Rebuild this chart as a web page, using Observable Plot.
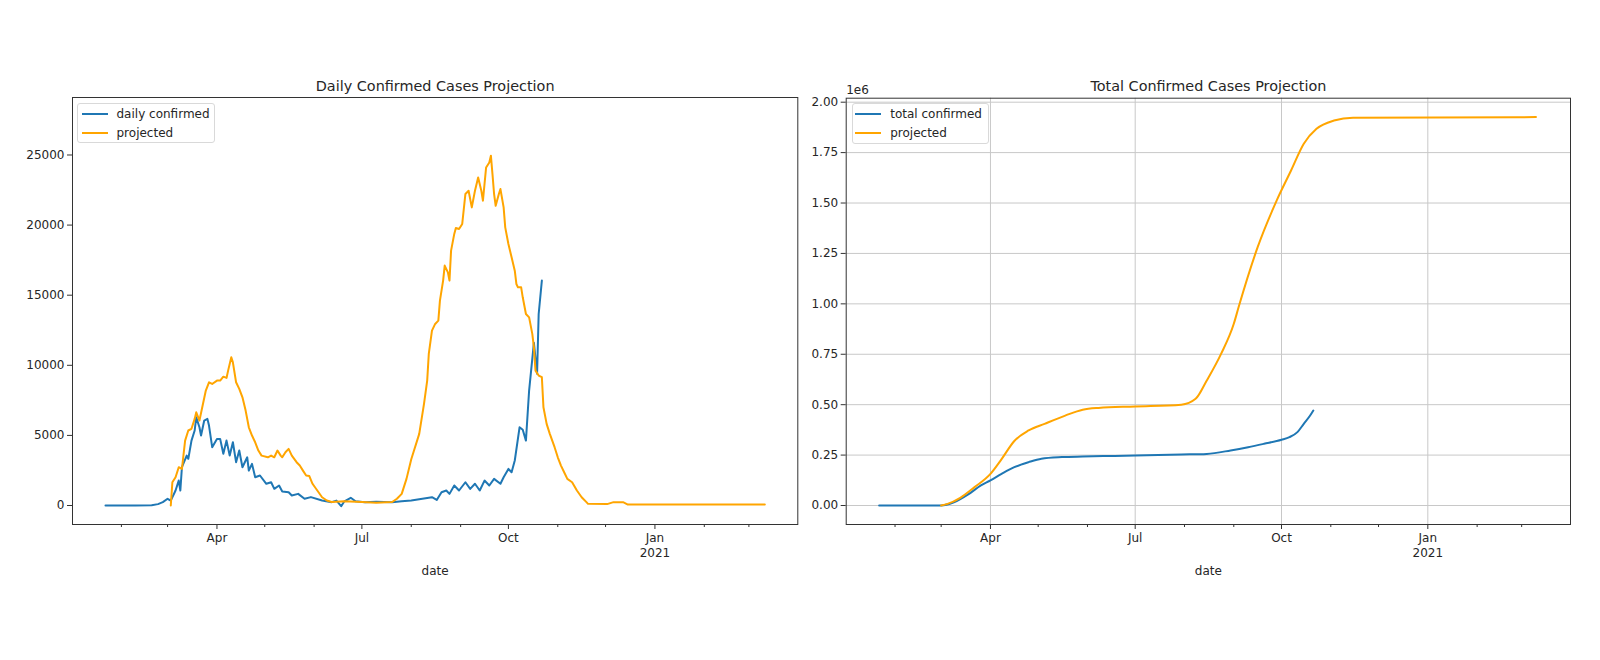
<!DOCTYPE html>
<html>
<head>
<meta charset="utf-8">
<script src="https://cdn.jsdelivr.net/npm/d3@7"></script>
<script src="https://cdn.jsdelivr.net/npm/@observablehq/plot@0.6"></script>
<style>
  body { margin: 0; background: #fff; }
  #wrap { position: relative; width: 1600px; height: 660px; overflow: hidden; font-family: "DejaVu Sans", sans-serif; background: #fff; }
  #wrap svg { position: absolute; top: 0; }
  .legend { position: absolute; box-sizing: border-box; border: 1px solid #d9d9d9; border-radius: 3px; background: rgba(255,255,255,0.8); font-size: 12px; color: #262626; }
  .legend .swatch { position: absolute; width: 26px; height: 2px; }
  .legend .label { position: absolute; line-height: 14px; white-space: nowrap; transform: translateY(-50%); }
</style>
</head>
<body>
<div id="wrap"></div>
<script>
// ---- daily confirmed cases (reported) ----
const dailyDates = [
  "2020-01-22","2020-02-01","2020-02-10","2020-02-20","2020-02-24","2020-02-27","2020-03-01","2020-03-03",
  "2020-03-06","2020-03-08","2020-03-09","2020-03-10","2020-03-13","2020-03-14","2020-03-16","2020-03-18",
  "2020-03-19","2020-03-21","2020-03-22","2020-03-24","2020-03-26","2020-03-27","2020-03-29","2020-04-01",
  "2020-04-03","2020-04-05","2020-04-07","2020-04-09","2020-04-11","2020-04-13","2020-04-15","2020-04-17",
  "2020-04-20","2020-04-21","2020-04-23","2020-04-25","2020-04-28","2020-05-02","2020-05-05","2020-05-07",
  "2020-05-10","2020-05-12","2020-05-16","2020-05-18","2020-05-22","2020-05-26","2020-05-30","2020-06-06",
  "2020-06-12","2020-06-15","2020-06-18","2020-06-20","2020-06-24","2020-06-27","2020-07-03","2020-07-10",
  "2020-07-20","2020-07-26","2020-08-01","2020-08-08","2020-08-14","2020-08-17","2020-08-20","2020-08-23",
  "2020-08-25","2020-08-28","2020-08-31","2020-09-04","2020-09-07","2020-09-10","2020-09-13","2020-09-16",
  "2020-09-19","2020-09-22","2020-09-26","2020-09-28","2020-10-01","2020-10-03","2020-10-05","2020-10-08",
  "2020-10-10","2020-10-12","2020-10-14","2020-10-17","2020-10-19","2020-10-20","2020-10-22"
];
const dailyConfirmed = [
  0, 0, 0, 20, 100, 240, 480, 350,
  1070, 1780, 1070, 2730, 3560, 3330, 4630, 5350,
  6290, 5580, 4990, 6060, 6180, 5700, 4160, 4750,
  4750, 3690, 4630, 3560, 4510, 3090, 3920, 2730,
  3440, 2490, 2970, 2020, 2140, 1550, 1660, 1190,
  1430, 1000, 950, 710, 830, 480, 600, 360,
  240, 350, -50, 300, 550, 300, 240, 260,
  240, 300, 360, 480, 590, 400, 950, 1070,
  830, 1430, 1070, 1660, 1190, 1550, 1070, 1780,
  1430, 1900, 1550, 2020, 2610, 2370, 3210, 5580,
  5400, 4630, 8200, 11600, 9400, 13660, 16040
];

// ---- daily cases, projected ----
const projDailyDates = [
  "2020-03-03","2020-03-04","2020-03-06","2020-03-08","2020-03-10","2020-03-12","2020-03-14","2020-03-16",
  "2020-03-18","2020-03-19","2020-03-21","2020-03-23","2020-03-25","2020-03-27","2020-03-29","2020-04-01",
  "2020-04-03","2020-04-05","2020-04-07","2020-04-08","2020-04-10","2020-04-11","2020-04-13","2020-04-15",
  "2020-04-17","2020-04-19","2020-04-21","2020-04-23","2020-04-25","2020-04-27","2020-04-29","2020-05-03",
  "2020-05-05","2020-05-07","2020-05-09","2020-05-11","2020-05-12","2020-05-14","2020-05-16","2020-05-18",
  "2020-05-21","2020-05-23","2020-05-25","2020-05-27","2020-05-29","2020-05-31","2020-06-03","2020-06-06",
  "2020-06-09","2020-06-12","2020-06-20","2020-07-01","2020-07-10","2020-07-20","2020-07-23","2020-07-26",
  "2020-07-29","2020-08-01","2020-08-06","2020-08-09","2020-08-11","2020-08-12","2020-08-14","2020-08-16",
  "2020-08-18","2020-08-19","2020-08-21","2020-08-22","2020-08-24","2020-08-25","2020-08-26","2020-08-28",
  "2020-08-29","2020-08-31","2020-09-02","2020-09-04","2020-09-06","2020-09-08","2020-09-10","2020-09-12",
  "2020-09-14","2020-09-15","2020-09-17","2020-09-19","2020-09-20","2020-09-21","2020-09-22","2020-09-23",
  "2020-09-25","2020-09-26","2020-09-28","2020-09-29","2020-10-01","2020-10-03","2020-10-05","2020-10-06",
  "2020-10-07","2020-10-09","2020-10-10","2020-10-12","2020-10-14","2020-10-16","2020-10-17","2020-10-18",
  "2020-10-20","2020-10-22","2020-10-23","2020-10-25","2020-10-27","2020-10-30","2020-11-01","2020-11-03",
  "2020-11-05","2020-11-07","2020-11-10","2020-11-13","2020-11-16","2020-11-19","2020-11-20","2020-12-02",
  "2020-12-06","2020-12-12","2020-12-15","2021-01-15","2021-02-15","2021-03-11"
];
const projDaily = [
  0, 1660, 2020, 2730, 2610, 4630, 5350, 5470,
  6180, 6650, 6060, 7130, 8200, 8790, 8670, 8910,
  8910, 9190, 9100, 9620, 10570, 10210, 8790, 8320,
  7720, 6770, 5580, 4990, 4510, 3920, 3560, 3440,
  3560, 3440, 3920, 3560, 3440, 3800, 4040, 3560,
  3090, 2850, 2490, 2140, 2100, 1550, 1070, 590,
  360, 250, 300, 250, 200, 250, 480, 830,
  1900, 3300, 5110, 7250, 8910, 10810, 12470, 12950,
  13190, 14610, 16040, 17110, 16630, 16040, 18180, 19370,
  19790, 19720, 20080, 22220, 22450, 21260, 22450, 23400,
  22450, 21740, 24110, 24470, 24950, 23640, 22220, 21380,
  22220, 22570, 21260, 19840, 18650, 17700, 16750, 15800,
  15560, 15560, 14850, 13660, 13420, 12240, 11280, 9620,
  9270, 9150, 7010, 5820, 5110, 4160, 3440, 2850,
  2370, 1900, 1660, 1070, 590, 240, 120, 100,
  240, 240, 70, 70, 70, 70
];

// ---- cumulative confirmed cases (reported) ----
const totalDates = [
  "2020-01-22","2020-02-15","2020-03-01","2020-03-09","2020-03-18","2020-03-26","2020-04-01","2020-04-08",
  "2020-04-16","2020-04-25","2020-05-03","2020-05-16","2020-05-29","2020-06-18","2020-07-01","2020-07-30",
  "2020-08-15","2020-08-30","2020-09-10","2020-09-20","2020-10-01","2020-10-06","2020-10-11","2020-10-15",
  "2020-10-19","2020-10-21"
];
const totalConfirmed = [
  0, 0, 0, 16000, 55000, 100000, 125000, 157000,
  190000, 215000, 232000, 240000, 243000, 246000, 248000, 253000,
  256000, 273000, 289000, 306000, 326000, 339000, 364000, 405000,
  446000, 471000
];

// ---- cumulative cases, projected ----
const projTotalDates = [
  "2020-03-01","2020-03-05","2020-03-13","2020-03-22","2020-04-01","2020-04-08","2020-04-16","2020-04-25",
  "2020-05-05","2020-05-18","2020-05-29","2020-06-08","2020-07-01","2020-07-30","2020-08-08","2020-08-15",
  "2020-08-24","2020-09-01","2020-09-04","2020-09-16","2020-09-28","2020-10-07","2020-10-15","2020-10-23",
  "2020-11-03","2020-11-15","2021-03-10"
];
const projTotal = [
  0, 8000, 38000, 91000, 157000, 230000, 320000, 372000,
  405000, 446000, 475000, 484000, 491000, 500000, 529000, 620000,
  752000, 901000, 983000, 1281000, 1513000, 1661000, 1794000, 1868000,
  1909000, 1923000, 1926000
];

// ---- axis ticks ----
const dailyTicks = [0, 5000, 10000, 15000, 20000, 25000];
const totalTicks = [0, 250000, 500000, 750000, 1000000, 1250000, 1500000, 1750000, 2000000];
const majorMonths = ["2020-04-01", "2020-07-01", "2020-10-01", "2021-01-01"];
const minorMonths = ["2020-02-01", "2020-03-01", "2020-05-01", "2020-06-01", "2020-08-01", "2020-09-01",
                     "2020-11-01", "2020-12-01", "2021-02-01", "2021-03-01"];

const BLUE = "#1f77b4";
const ORANGE = "#ffa500";
const INK = "#333";

const parse = d3.utcParse("%Y-%m-%d");
const rows = (dates, values) => dates.map((d, i) => ({date: parse(d), value: values[i]}));
const majorTicks = majorMonths.map(parse);
const minorTicks = minorMonths.map(parse);
const monthLabel = d => d.getUTCMonth() === 0 ? `Jan\n${d.getUTCFullYear()}` : d3.utcFormat("%b")(d);
const xDomain = [new Date("2020-01-01T07:00Z"), new Date("2021-03-31T17:00Z")];

const baseStyle = {fontFamily: "DejaVu Sans, sans-serif", fontSize: "12px", color: "#262626", background: "transparent", overflow: "visible"};

function xAxes() {
  return [
    Plot.axisX(majorTicks, {tickSize: 5, tickPadding: 3, tickFormat: monthLabel, label: null, lineHeight: 1.17, color: INK, fill: "#262626"}),
    Plot.axisX(minorTicks, {tickSize: 3, tickFormat: () => "", label: null, color: INK})
  ];
}

// Daily chart
const left = Plot.plot({
  width: 800, height: 660,
  marginLeft: 72, marginRight: 2.7, marginTop: 97, marginBottom: 136,
  style: baseStyle,
  x: {type: "utc", domain: xDomain},
  y: {domain: [-1354, 29100]},
  marks: [
    Plot.axisY(dailyTicks, {tickSize: 5, tickPadding: 3, tickFormat: d3.format("d"), label: null, color: INK, fill: "#262626"}),
    ...xAxes(),
    Plot.line(rows(dailyDates, dailyConfirmed), {x: "date", y: "value", stroke: BLUE, strokeWidth: 2}),
    Plot.line(rows(projDailyDates, projDaily), {x: "date", y: "value", stroke: ORANGE, strokeWidth: 2}),
    Plot.frame({stroke: INK, strokeWidth: 1}),
    Plot.text(["Daily Confirmed Cases Projection"], {text: d => d, frameAnchor: "top", dy: -11, lineAnchor: "middle", fontSize: 14.4, fill: "#262626"}),
    Plot.text(["date"], {text: d => d, frameAnchor: "bottom", dy: 46.7, lineAnchor: "middle", fill: "#262626"})
  ]
});
left.style.left = "0px";

// Cumulative chart
const right = Plot.plot({
  width: 800, height: 660,
  marginLeft: 45.7, marginRight: 30, marginTop: 97.7, marginBottom: 136,
  style: baseStyle,
  x: {type: "utc", domain: xDomain},
  y: {domain: [-94200, 2019800]},
  marks: [
    Plot.gridY(totalTicks, {stroke: "#c8c8c8", strokeOpacity: 1, strokeWidth: 1}),
    Plot.gridX(majorTicks, {stroke: "#c8c8c8", strokeOpacity: 1, strokeWidth: 1}),
    Plot.axisY(totalTicks, {tickSize: 5, tickPadding: 3, tickFormat: d => (d / 1e6).toFixed(2), label: null, color: INK, fill: "#262626"}),
    ...xAxes(),
    Plot.line(rows(totalDates, totalConfirmed), {x: "date", y: "value", stroke: BLUE, strokeWidth: 2, curve: "monotone-x"}),
    Plot.line(rows(projTotalDates, projTotal), {x: "date", y: "value", stroke: ORANGE, strokeWidth: 2, curve: "monotone-x"}),
    Plot.frame({stroke: INK, strokeWidth: 1}),
    Plot.text(["1e6"], {text: d => d, frameAnchor: "top-left", dy: -7.7, textAnchor: "start", lineAnchor: "middle", fill: "#262626"}),
    Plot.text(["Total Confirmed Cases Projection"], {text: d => d, frameAnchor: "top", dy: -11.7, lineAnchor: "middle", fontSize: 14.4, fill: "#262626"}),
    Plot.text(["date"], {text: d => d, frameAnchor: "bottom", dy: 46.7, lineAnchor: "middle", fill: "#262626"})
  ]
});
right.style.left = "800px";

const wrap = document.getElementById("wrap");
wrap.append(left, right);

// Legends
function legend(box, entries) {
  const div = d3.select(wrap).append("div").attr("class", "legend")
    .style("left", box.left + "px").style("top", box.top + "px")
    .style("width", box.width + "px").style("height", box.height + "px");
  entries.forEach((e, i) => {
    const cy = box.rows[i];
    div.append("div").attr("class", "swatch")
      .style("left", box.swatchLeft + "px").style("top", (cy - 1) + "px").style("background", e.color);
    div.append("div").attr("class", "label")
      .style("left", box.textLeft + "px").style("top", cy + "px").text(e.label);
  });
}
legend({left: 77, top: 103, width: 138, height: 40, rows: [10.3, 28.7], swatchLeft: 4, textLeft: 38.5},
       [{label: "daily confirmed", color: BLUE}, {label: "projected", color: ORANGE}]);
legend({left: 851.7, top: 102.7, width: 137, height: 41, rows: [10.6, 29], swatchLeft: 2.5, textLeft: 37.5},
       [{label: "total confirmed", color: BLUE}, {label: "projected", color: ORANGE}]);
</script>
</body>
</html>
